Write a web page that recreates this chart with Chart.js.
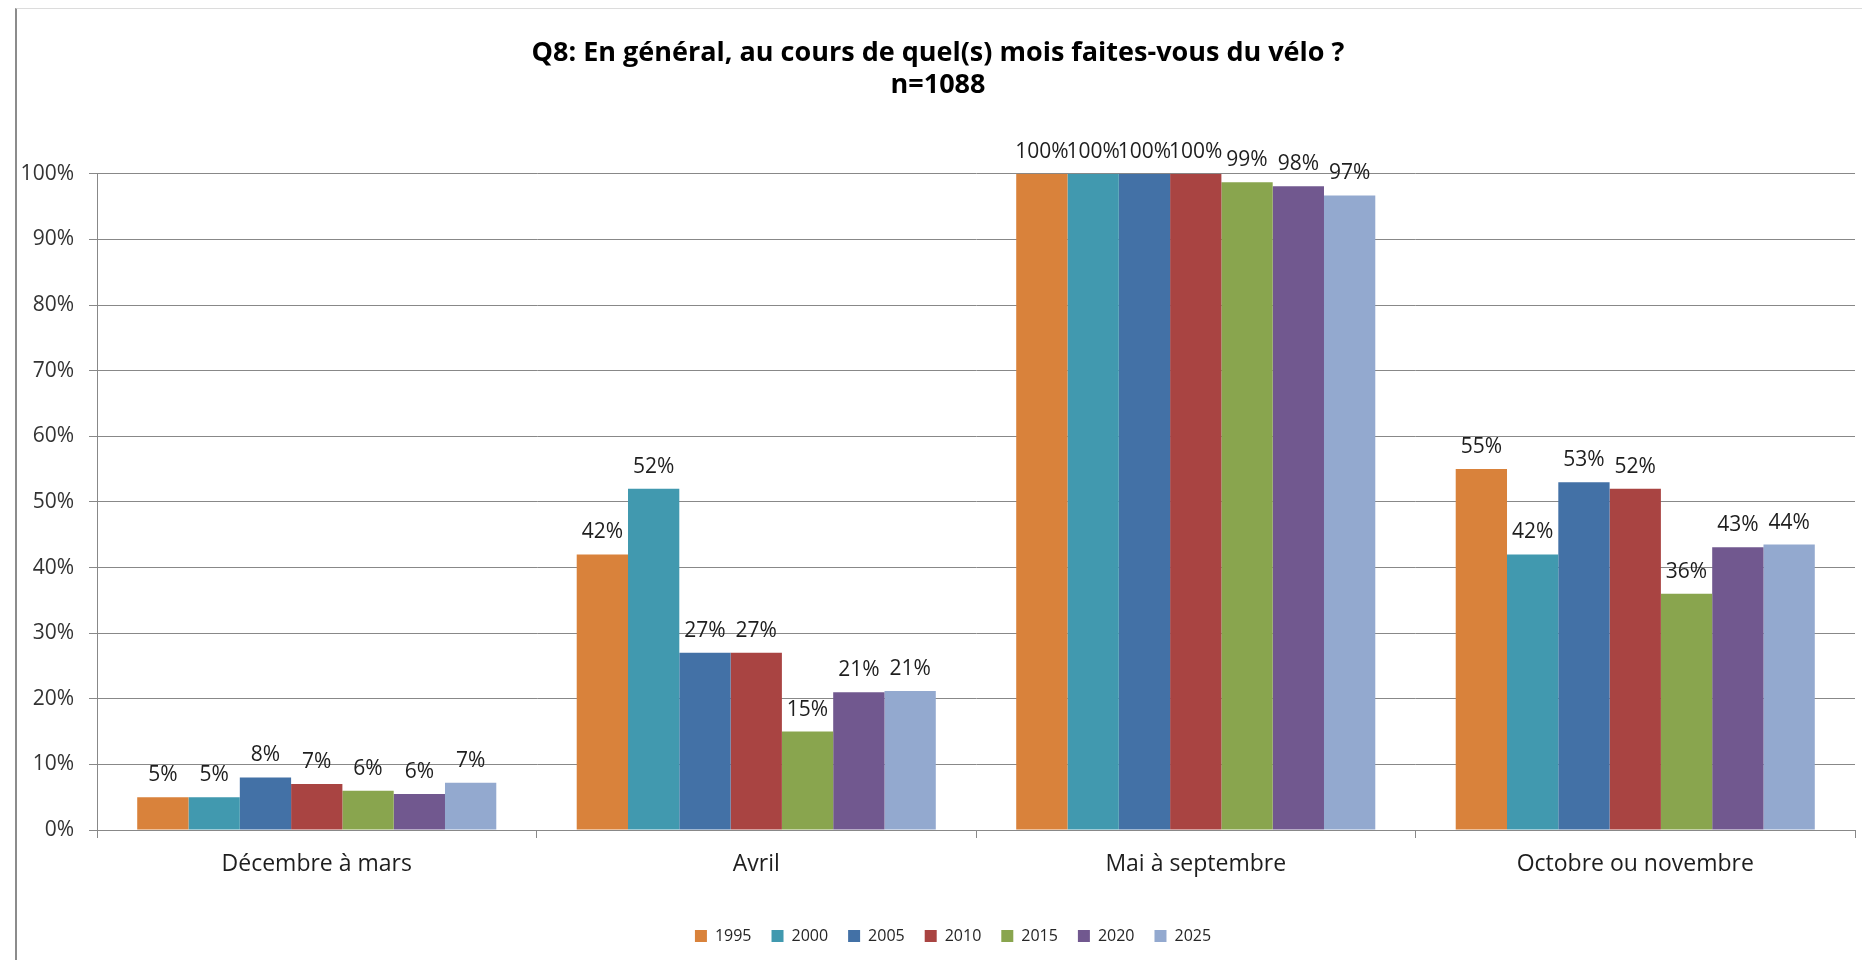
<!DOCTYPE html>
<html lang="fr">
<head>
    <meta charset="UTF-8">
    <title>Q8 vélo</title>
    <script src="https://cdn.jsdelivr.net/npm/chart.js"></script>
    <style>
        body {
            margin: 0;
            background: #fff;
            width: 1862px;
            height: 960px;
            overflow: hidden;
            position: relative;
        }
        .frame {
            position: absolute;
            left: 15px;
            top: 8px;
            width: 1870px;
            height: 980px;
            border-left: 2px solid #8c8c8c;
            border-top: 1px solid #dcdcdc;
        }
        #wrap {
            position: absolute;
            left: 0;
            top: 0;
            width: 1862px;
            height: 960px;
        }
    </style>
</head>
<body>
    <div class="frame"></div>
    <div id="wrap"><canvas id="chart"></canvas></div>

    <script>
        // categories and years
        const categories = ['Décembre à mars', 'Avril', 'Mai à septembre', 'Octobre ou novembre'];
        const years = ['1995', '2000', '2005', '2010', '2015', '2020', '2025'];

        // percentages per year (one value per category)
        const v1995 = [5, 42, 100, 55];
        const v2000 = [5, 52, 100, 42];
        const v2005 = [8, 27, 100, 53];
        const v2010 = [7, 27, 100, 52];
        const v2015 = [6, 15, 98.7, 36];
        const v2020 = [5.5, 21, 98.1, 43.1];
        const v2025 = [7.2, 21.2, 96.7, 43.5];

        const yTicks = [0, 10, 20, 30, 40, 50, 60, 70, 80, 90, 100];
        const colors = ['#D9823B', '#4199AF', '#4371A6', '#A94442', '#89A54E', '#71588F', '#93A9CF'];

        const series = [v1995, v2000, v2005, v2010, v2015, v2020, v2025];

        // value labels above each bar
        const barLabels = {
            id: 'barLabels',
            afterDatasetsDraw(chart) {
                const ctx = chart.ctx;
                ctx.save();
                ctx.font = '21px "Open Sans"';
                ctx.fillStyle = '#1e1e1e';
                ctx.textAlign = 'center';
                ctx.textBaseline = 'middle';
                chart.data.datasets.forEach((ds, i) => {
                    chart.getDatasetMeta(i).data.forEach((bar, j) => {
                        ctx.fillText(Math.round(ds.data[j]) + '%', bar.x, bar.y - 22);
                    });
                });
                ctx.restore();
            }
        };

        // nudge the legend to where it sits in the original
        const legendShift = {
            id: 'legendShift',
            afterLayout(chart) {
                chart.legend.left += 15;
                chart.legend.right += 15;
            }
        };

        new Chart(document.getElementById('chart'), {
            type: 'bar',
            data: {
                labels: categories,
                datasets: years.map((y, i) => ({
                    label: y,
                    data: series[i],
                    backgroundColor: colors[i],
                    borderWidth: 0,
                    barPercentage: 1,
                    categoryPercentage: 0.817
                }))
            },
            options: {
                responsive: true,
                maintainAspectRatio: false,
                animation: false,
                layout: { padding: { left: 21, right: 7, top: 0, bottom: 6 } },
                plugins: {
                    title: {
                        display: true,
                        text: ['Q8: En général, au cours de quel(s) mois faites-vous du vélo ?', 'n=1088'],
                        color: '#000',
                        font: { family: 'Open Sans', size: 27, weight: 'bold', lineHeight: 1.2 },
                        padding: { top: 37, bottom: 72 }
                    },
                    legend: {
                        position: 'bottom',
                        labels: {
                            boxWidth: 12,
                            boxHeight: 12,
                            padding: 20,
                            color: '#262626',
                            font: { family: 'Open Sans', size: 16 }
                        }
                    },
                    tooltip: { enabled: false }
                },
                scales: {
                    x: {
                        afterFit(scale) { scale.height = 78; },
                        grid: { drawOnChartArea: false, drawTicks: true, tickLength: 8, color: '#888', offset: true },
                        border: { color: '#888', width: 1 },
                        ticks: { color: '#1e1e1e', padding: 13, font: { family: 'Open Sans', size: 23 } }
                    },
                    y: {
                        min: 0,
                        max: 100,
                        afterFit(scale) { scale.width = 76; },
                        afterBuildTicks(scale) { scale.ticks = yTicks.map(v => ({ value: v })); },
                        grid: { color: '#888', tickLength: 8 },
                        border: { color: '#888', width: 1 },
                        ticks: {
                            color: '#333',
                            padding: 15,
                            font: { family: 'Open Sans', size: 21 },
                            callback: v => v + '%'
                        }
                    }
                }
            },
            plugins: [barLabels, legendShift]
        });
    </script>
</body>
</html>
